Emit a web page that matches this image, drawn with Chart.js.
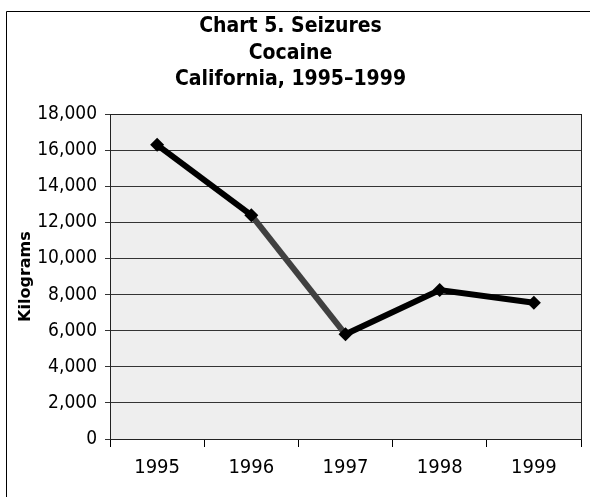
<!DOCTYPE html>
<html>
<head>
<meta charset="utf-8">
<script src="https://cdn.jsdelivr.net/npm/chart.js@4"></script>
<style>
  html, body { margin: 0; padding: 0; background: #fff; }
  #wrap { width: 590px; height: 497px; }
</style>
</head>
<body>
<div id="wrap"><canvas id="seizuresChart" width="590" height="497"></canvas></div>
<script>
// ================================
// CHART 5. SEIZURES - COCAINE, CALIFORNIA
// ================================

const years = ['1995', '1996', '1997', '1998', '1999'];
const kilograms = [16300, 12400, 5800, 8250, 7550];
const yTicks = [0, 2000, 4000, 6000, 8000, 10000, 12000, 14000, 16000, 18000];
const titleLines = ['Chart 5. Seizures', 'Cocaine', 'California, 1995\u20131999'];

const narrow = "'DejaVu Sans Condensed', 'Liberation Sans Narrow', sans-serif";

// plot background, plot frame and the outer box
const framePlugin = {
  id: 'frame',
  beforeDraw(chart) {
    const ctx = chart.ctx;
    const a = chart.chartArea;
    ctx.save();
    ctx.fillStyle = '#eeeeee';
    ctx.fillRect(a.left, a.top, a.right - a.left, a.bottom - a.top);
    ctx.strokeStyle = '#000';
    ctx.lineWidth = 1;
    ctx.beginPath();
    ctx.moveTo(6.5, chart.height);
    ctx.lineTo(6.5, 11.5);
    ctx.lineTo(chart.width, 11.5);
    ctx.stroke();
    ctx.restore();
  },
  beforeDatasetsDraw(chart) {
    const ctx = chart.ctx;
    const a = chart.chartArea;
    ctx.save();
    ctx.strokeStyle = '#222';
    ctx.lineWidth = 1;
    ctx.strokeRect(Math.round(a.left) + 0.5, Math.round(a.top) + 0.5,
      Math.round(a.right - a.left), Math.round(a.bottom - a.top));
    ctx.restore();
  }
};

const seizuresChart = new Chart(
document.getElementById('seizuresChart'),
{
type: 'line',

data: {
labels: years,
datasets: [{
label: 'Kilograms',
data: kilograms,
borderColor: '#000',
borderWidth: 6,
tension: 0,
pointStyle: 'rectRot',
pointRadius: 7,
pointHoverRadius: 7,
pointBackgroundColor: '#000',
pointBorderWidth: 0,
segment: {
borderColor: c => c.p0DataIndex === 1 ? '#404040' : '#000'
}
}]
},

options: {
responsive: false,
animation: false,
layout: { padding: { left: 0, right: 9, top: 0, bottom: 8 } },
plugins: {
legend: { display: false },
tooltip: { enabled: false },
title: {
display: true,
text: titleLines,
color: '#000',
font: { family: narrow, size: 21, weight: 'bold', lineHeight: 1.24 },
padding: { top: 14, bottom: 22 }
},
},
scales: {
x: {
type: 'category',
offset: true,
grid: { offset: true, drawOnChartArea: false, color: '#000', tickLength: 8 },
border: { color: '#000', width: 1 },
ticks: { color: '#000', padding: 9, font: { family: narrow, size: 20 } },
afterFit: s => { s.height = 50; }
},
y: {
min: 0,
max: 18000,
afterBuildTicks: s => { s.ticks = yTicks.map(v => ({ value: v })); },
grid: { color: '#333', tickLength: 5 },
border: { color: '#000', width: 1 },
ticks: {
color: '#000',
padding: 8,
font: { family: narrow, size: 19 },
callback: v => v.toLocaleString('en-US')
},
title: {
display: true,
text: 'Kilograms',
color: '#000',
font: { family: "'DejaVu Sans', sans-serif", size: 16, weight: 'bold' },
padding: { top: 16, bottom: 4 }
},
afterFit: s => { s.width = 110; }
}
}
},

plugins: [framePlugin]
});
</script>
</body>
</html>
